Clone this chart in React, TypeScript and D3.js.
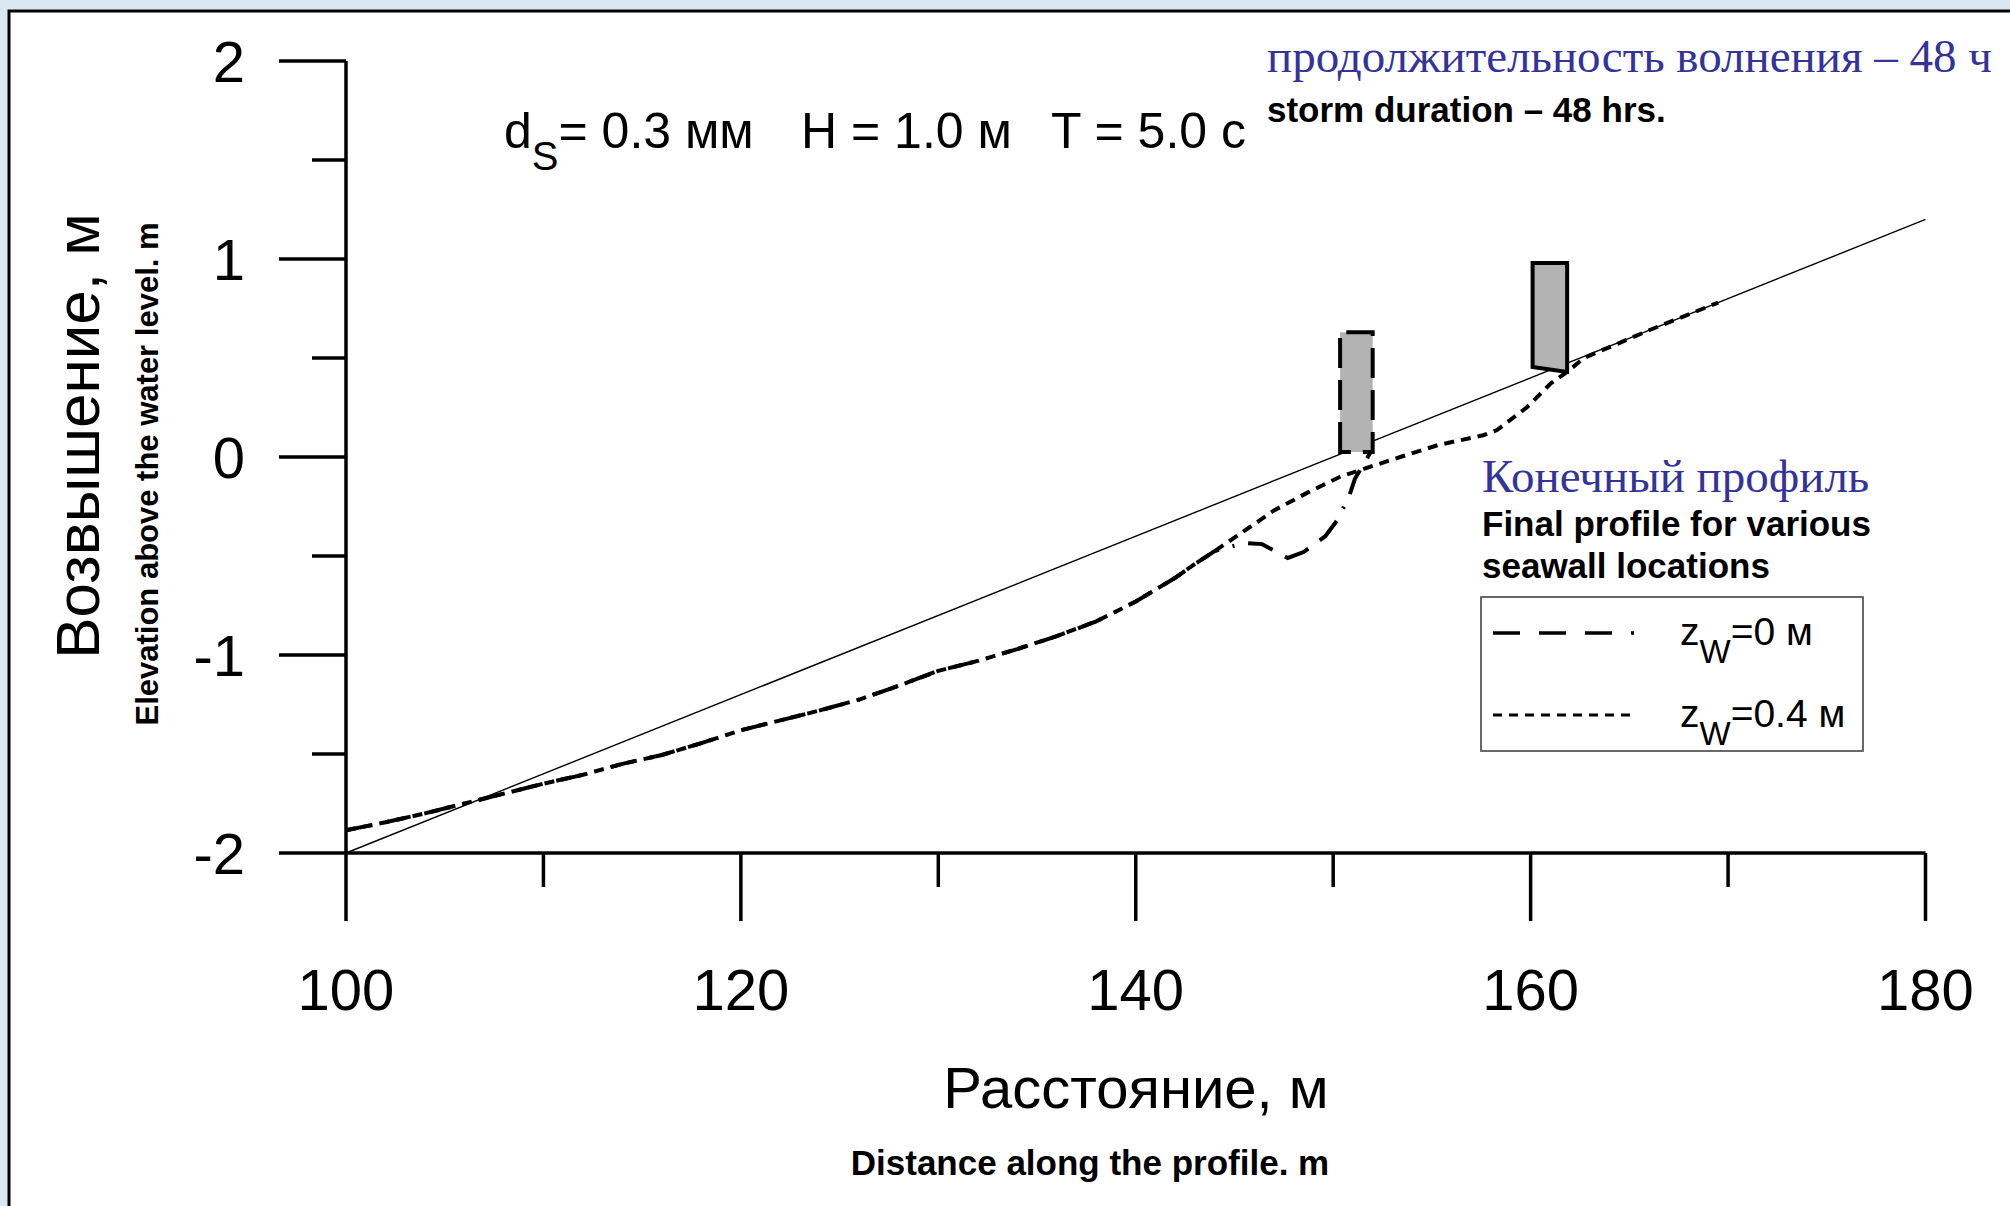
import * as d3 from "d3";

// profile points shared by both runs (seaward part)
const sharedDistance = [100, 102, 104, 106, 108, 110, 112, 114, 116, 118, 120, 122, 124, 126, 128, 130, 132, 134, 136, 138, 140, 142, 143, 144];
const sharedElevation = [-1.885, -1.845, -1.8, -1.75, -1.7, -1.65, -1.605, -1.55, -1.505, -1.445, -1.38, -1.33, -1.28, -1.225, -1.155, -1.08, -1.03, -0.97, -0.905, -0.83, -0.73, -0.61, -0.54, -0.475];

// z_w = 0 m
const zw0Distance = [145.5, 146.4, 147.7, 148.5, 149.6, 150.2, 150.8, 151.1, 151.9];
const zw0Elevation = [-0.435, -0.44, -0.51, -0.48, -0.4, -0.32, -0.2, -0.11, 0.025];

// z_w = 0.4 m
const zw04Distance = [145.4, 147.0, 148.7, 150.35, 151.7, 153.4, 155.3, 157.6, 158.3, 159.8, 161.0, 161.85, 162.7, 166.0, 169.5];
const zw04Elevation = [-0.38, -0.27, -0.18, -0.1, -0.055, 0.0, 0.06, 0.11, 0.136, 0.25, 0.37, 0.43, 0.5, 0.64, 0.78];

// initial plane slope
const initialDistance = [100, 180];
const initialElevation = [-2, 1.2];

// seawalls (z_w = 0, z_w = 0.4)
const wallLeft = [150.35, 160.1];
const wallRight = [152.0, 161.85];
const wallTop = [0.63, 0.98];
const wallBaseLeft = [0.025, 0.455];
const wallBaseRight = [0.025, 0.43];

const xMajor = [100, 120, 140, 160, 180];
const xMinor = [110, 130, 150, 170];
const yMajor = [-2, -1, 0, 1, 2];
const yMinor = [-1.5, -0.5, 0.5, 1.5];

const SANS = "'Liberation Sans', Arial, sans-serif";
const SERIF = "'Liberation Serif', 'Times New Roman', serif";
const BLUE = "#33339a";
const DASH_LONG = "26,14,26,14,26,14,2,14";
const DASH_SHORT = "10,7";

export default function App() {
  const x = d3.scaleLinear().domain([100, 180]).range([346, 1925.5]);
  const y = d3.scaleLinear().domain([-2, 2]).range([853, 61]);
  const line = d3.line<number[]>().x(d => x(d[0])).y(d => y(d[1]));

  const zip = (a: number[], b: number[]) => a.map((v, i) => [v, b[i]]);
  const shared = zip(sharedDistance, sharedElevation);
  const run0 = shared.concat(zip(zw0Distance, zw0Elevation));
  const run04 = shared.concat(zip(zw04Distance, zw04Elevation));
  const initial = zip(initialDistance, initialElevation);

  const x0 = x(100);
  const yBase = y(-2);

  return (
    <svg width={2010} height={1206} style={{ position: "absolute", left: 0, top: 0, display: "block" }}>
      <rect x={0} y={0} width={2010} height={1206} fill="#dbe7f3" />
      <rect x={9} y={11} width={2030} height={1230} fill="#fff" stroke="#000" strokeWidth={3} />

      {/* initial profile */}
      <path d={line(initial) ?? ""} fill="none" stroke="#000" strokeWidth={1.4} />

      {/* seawalls */}
      {wallLeft.map((l, i) => {
        const pts: [number, number][] = [
          [x(l), y(wallBaseLeft[i])],
          [x(l), y(wallTop[i])],
          [x(wallRight[i]), y(wallTop[i])],
          [x(wallRight[i]), y(wallBaseRight[i])],
        ];
        const d = "M" + pts.map(p => p.join(",")).join("L") + "Z";
        return (
          <g key={i}>
            <path d={d} fill="#b3b3b3" stroke="none" />
            <path d={d} fill="none" stroke="#000" strokeWidth={4}
              strokeDasharray={i === 0 ? "30,12" : undefined} strokeLinejoin="miter" />
          </g>
        );
      })}

      {/* final profiles */}
      <path d={line(run04) ?? ""} fill="none" stroke="#000" strokeWidth={4} strokeDasharray={DASH_SHORT} />
      <path d={line(run0) ?? ""} fill="none" stroke="#000" strokeWidth={4} strokeDasharray={DASH_LONG} />

      {/* axes */}
      <g stroke="#000" strokeWidth={3.5}>
        <line x1={x0} x2={x0} y1={y(2)} y2={yBase} />
        <line x1={279} x2={x(180)} y1={yBase} y2={yBase} />
        {yMajor.filter(v => v !== -2).map(v => (
          <line key={"ym" + v} x1={279} x2={x0} y1={y(v)} y2={y(v)} />
        ))}
        {yMinor.map(v => (
          <line key={"yn" + v} x1={312} x2={x0} y1={y(v)} y2={y(v)} />
        ))}
        {xMajor.map(v => (
          <line key={"xm" + v} x1={x(v)} x2={x(v)} y1={yBase} y2={921} />
        ))}
        {xMinor.map(v => (
          <line key={"xn" + v} x1={x(v)} x2={x(v)} y1={yBase} y2={887} />
        ))}
      </g>

      <g fontFamily={SANS} fontSize={58} fill="#000">
        {yMajor.map(v => (
          <text key={"yl" + v} x={245} y={y(v)} textAnchor="end" dominantBaseline="central">{v}</text>
        ))}
        {xMajor.map(v => (
          <text key={"xl" + v} x={x(v)} y={1010} textAnchor="middle">{v}</text>
        ))}
        <text x={1136} y={1108} textAnchor="middle">Расстояние, м</text>
        <text transform="translate(99,436) rotate(-90)" textAnchor="middle" fontSize={62}>Возвышение, м</text>
      </g>
      <text x={1090} y={1175} textAnchor="middle" fontFamily={SANS} fontWeight="bold" fontSize={35}>
        Distance along the profile. m
      </text>
      <text transform="translate(158,474) rotate(-90)" textAnchor="middle" fontFamily={SANS} fontWeight="bold" fontSize={31}>
        Elevation above the water level. m
      </text>

      {/* parameters */}
      <g fontFamily={SANS} fontSize={50}>
        <text x={504} y={148}>d<tspan dy={22} fontSize={40}>S</tspan><tspan dy={-22}>= 0.3 мм</tspan></text>
        <text x={801} y={148}>H = 1.0 м</text>
        <text x={1051} y={148}>T = 5.0 с</text>
      </g>

      <text x={1267} y={72} fontFamily={SERIF} fontSize={47} fill={BLUE}>продолжительность волнения – 48 ч</text>
      <text x={1267} y={122} fontFamily={SANS} fontWeight="bold" fontSize={35}>storm duration – 48 hrs.</text>

      <text x={1482} y={492} fontFamily={SERIF} fontSize={47} fill={BLUE}>Конечный профиль</text>
      <text x={1482} y={536} fontFamily={SANS} fontWeight="bold" fontSize={35}>Final profile for various</text>
      <text x={1482} y={578} fontFamily={SANS} fontWeight="bold" fontSize={35}>seawall locations</text>

      {/* legend */}
      <rect x={1481} y={597} width={382} height={154} fill="#fff" stroke="#444" strokeWidth={1.6} />
      <line x1={1493} x2={1636} y1={633} y2={633} stroke="#000" strokeWidth={3.5} strokeDasharray="27,19,27,19,27,19,3,20" />
      <line x1={1493} x2={1636} y1={715} y2={715} stroke="#000" strokeWidth={3} strokeDasharray="9,7" />
      <g fontFamily={SANS} fontSize={39}>
        <text x={1680} y={645}>z<tspan dy={18} fontSize={33}>W</tspan><tspan dy={-18}>=0 м</tspan></text>
        <text x={1680} y={727}>z<tspan dy={18} fontSize={33}>W</tspan><tspan dy={-18}>=0.4 м</tspan></text>
      </g>
    </svg>
  );
}
